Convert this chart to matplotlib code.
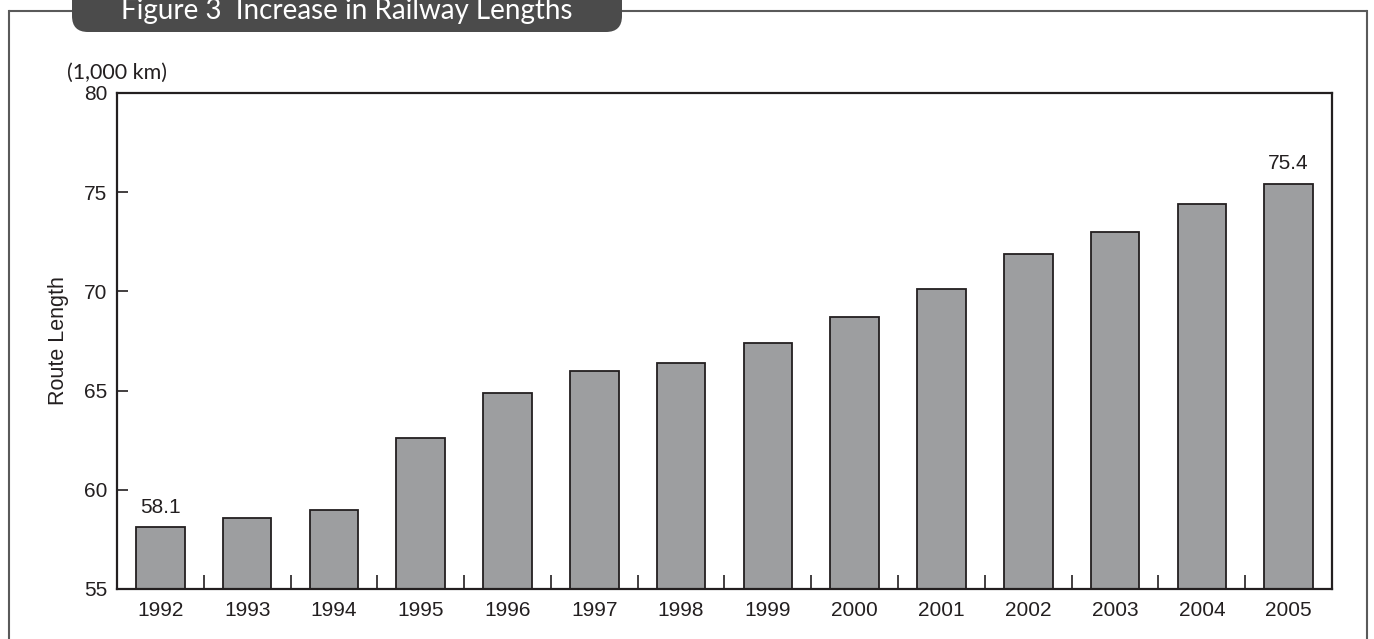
import matplotlib.pyplot as plt
from matplotlib.patches import FancyBboxPatch

# Data
years = ["1992", "1993", "1994", "1995", "1996", "1997", "1998",
         "1999", "2000", "2001", "2002", "2003", "2004", "2005"]
route_length = [58.1, 58.6, 59.0, 62.6, 64.9, 66.0, 66.4,
                67.4, 68.7, 70.1, 71.9, 73.0, 74.4, 75.4]
labelled = {0: "58.1", 13: "75.4"}
y_ticks = [55, 60, 65, 70, 75, 80]

W, H = 1374, 639
plt.rcParams["font.family"] = ["Liberation Sans", "DejaVu Sans"]
fig = plt.figure(figsize=(W / 100, H / 100), dpi=100)

# background layer in pixel coords: frame + title pill
bg = fig.add_axes([0, 0, 1, 1], zorder=0)
bg.set_xlim(0, W)
bg.set_ylim(H, 0)
bg.axis("off")
frame_c = "#5a5a5a"
bg.plot([9, 72], [11, 11], color=frame_c, lw=1.5, solid_capstyle="butt")
bg.plot([622, 1367], [11, 11], color=frame_c, lw=1.5, solid_capstyle="butt")
bg.plot([9, 9], [11, H + 5], color=frame_c, lw=1.5)
bg.plot([1367, 1367], [11, H + 5], color=frame_c, lw=1.5)
pill = FancyBboxPatch((72, -20), 550, 52, boxstyle="round,pad=0,rounding_size=16",
                      fc="#4b4b4b", ec="none")
bg.add_patch(pill)
bg.text(347, 19, "Figure 3  Increase in Railway Lengths", color="white",
        fontsize=20, family="Lato", ha="center", va="baseline")
bg.text(67, 73, "(1,000 km)", color="#231f20", fontsize=15.5, family="Lato",
        ha="left", va="center")

# main chart
left, right, top, bottom = 117, 1332, 93, 589
ax = fig.add_axes([left / W, (H - bottom) / H, (right - left) / W, (bottom - top) / H],
                  zorder=1)
ax.patch.set_alpha(0)
x = range(len(years))
ax.bar(x, [v - 55 for v in route_length], bottom=55, width=0.56,
       color="#9d9ea0", edgecolor="#231f20", linewidth=1.3, zorder=2)
for i, txt in labelled.items():
    ax.text(i, route_length[i] + 0.55, txt, ha="center", va="bottom",
            fontsize=15, color="#231f20")

ax.set_xlim(-0.5, len(years) - 0.5)
ax.set_ylim(55, 80)
ax.set_yticks(y_ticks)
ax.set_xticks(list(x))
ax.set_xticklabels(years)
ax.tick_params(axis="x", length=0, pad=9, labelsize=15, colors="#231f20")
ax.tick_params(axis="y", direction="in", length=8, width=1.2, pad=7,
               labelsize=15, colors="#231f20")
# category boundary ticks
ax.set_xticks([i + 0.5 for i in range(len(years) - 1)], minor=True)
ax.tick_params(axis="x", which="minor", direction="in", length=10, width=1.2,
               color="#231f20")
for s in ax.spines.values():
    s.set_linewidth(1.6)
    s.set_color("#231f20")
ax.set_ylabel("Route Length", fontsize=15.5, color="#231f20", labelpad=11)

fig.savefig("out.png", dpi=100)
